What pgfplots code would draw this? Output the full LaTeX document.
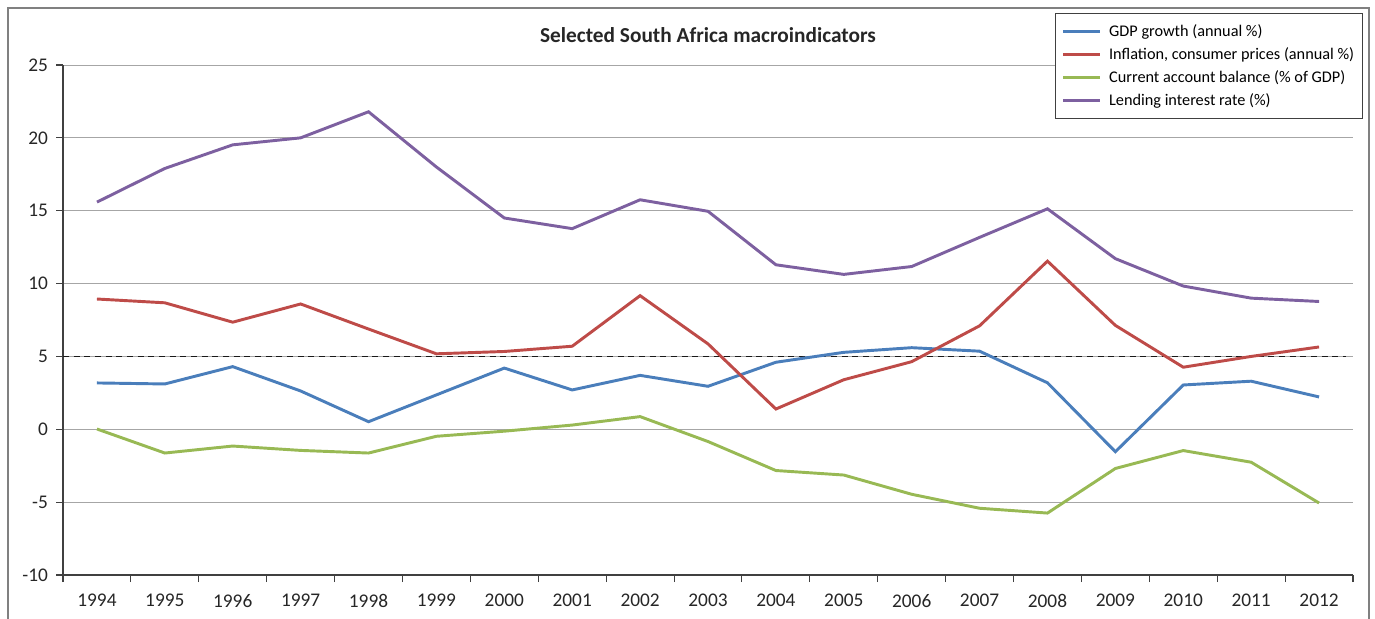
\documentclass[border=0pt]{standalone}
\usepackage{fontspec}
\setmainfont{Carlito}
\usepackage{pgfplots}
\pgfplotsset{compat=1.18}
\definecolor{cgdp}{HTML}{4A7EBB}
\definecolor{cinf}{HTML}{BE4B48}
\definecolor{cca}{HTML}{98B954}
\definecolor{clend}{HTML}{7D60A0}
\definecolor{cgrid}{HTML}{A6A6A6}
\begin{document}
\begin{tikzpicture}
\path[use as bounding box] (0,0) rectangle (1031.25pt,463.5pt);
\draw[color=black!50, line width=1.5pt] (6pt,-2pt) -- (6pt,457.5pt) -- (1026.75pt,457.5pt) -- (1026.75pt,-2pt);
\begin{axis}[
  at={(47.25pt,32.25pt)}, anchor=south west,
  scale only axis, width=967.5pt, height=382.5pt,
  xmin=-0.5, xmax=18.5, ymin=-10, ymax=25,
  axis lines=left, axis line style={-, color=black!75, line width=0.8pt},
  xtick={0,...,18},
  xticklabels={1994,1995,1996,1997,1998,1999,2000,2001,2002,2003,2004,2005,2006,2007,2008,2009,2010,2011,2012},
  minor xtick={-0.5,0.5,...,18.5},
  major x tick style={draw=none},
  minor x tick style={color=black!75, line width=0.8pt},
  ytick={-10,-5,...,25},
  ytick style={color=black!75, line width=0.8pt},
  tick align=outside, major tick length=5.25pt, minor tick length=5.25pt,
  ymajorgrids, major grid style={color=cgrid, line width=0.6pt},
  /pgf/number format/assume math mode=true,
  tick label style={font=\fontsize{14.5}{17}\selectfont, color=black!85},
  xticklabel style={yshift=-5.5pt},
  yticklabel style={xshift=-2.5pt},
  legend style={at={(0.769,1.102)}, anchor=north west, draw=black!75, line width=0.8pt, fill=white,
    font=\fontsize{12.2}{14}\selectfont, inner xsep=4.5pt, inner ysep=6pt, row sep=2.9pt,
    /tikz/every odd column/.append style={column sep=3.75pt},
    /tikz/every even column/.append style={column sep=7pt}},
  legend cell align=left,
  legend image code/.code={\draw[#1, line width=2.2pt] (0pt,0pt) -- (27.75pt,0pt);},
  every axis plot/.append style={line width=2.2pt},
  clip=false,
]
\addplot[black!90, line width=1.2pt, dash pattern=on 4.5pt off 3.5pt, forget plot] coordinates {(-0.5,5) (18.4,5)};
\addplot[cgdp] coordinates {(0,3.18) (1,3.11) (2,4.30) (3,2.63) (4,0.52) (5,2.36) (6,4.20) (7,2.70) (8,3.70) (9,2.95) (10,4.60) (11,5.28) (12,5.60) (13,5.36) (14,3.19) (15,-1.54) (16,3.04) (17,3.30) (18,2.22)};
\addplot[cinf] coordinates {(0,8.94) (1,8.68) (2,7.35) (3,8.60) (4,6.88) (5,5.18) (6,5.34) (7,5.70) (8,9.17) (9,5.86) (10,1.39) (11,3.40) (12,4.64) (13,7.10) (14,11.54) (15,7.13) (16,4.26) (17,5.00) (18,5.65)};
\addplot[cca] coordinates {(0,0.02) (1,-1.63) (2,-1.15) (3,-1.45) (4,-1.63) (5,-0.48) (6,-0.13) (7,0.29) (8,0.87) (9,-0.84) (10,-2.83) (11,-3.14) (12,-4.46) (13,-5.42) (14,-5.75) (15,-2.69) (16,-1.46) (17,-2.26) (18,-5.06)};
\addplot[clend] coordinates {(0,15.59) (1,17.90) (2,19.52) (3,20.00) (4,21.79) (5,18.00) (6,14.50) (7,13.77) (8,15.75) (9,14.96) (10,11.29) (11,10.63) (12,11.17) (13,13.17) (14,15.13) (15,11.71) (16,9.83) (17,9.00) (18,8.77)};
\legend{{GDP growth (annual \%)},{Inflation, consumer prices (annual \%)},{Current account balance (\% of GDP)},{Lending interest rate (\%)}}
\node[font=\fontsize{16}{19}\selectfont\bfseries, color=black!85] at (axis description cs:0.5,1.059) {Selected South Africa macroindicators};
\end{axis}
\end{tikzpicture}
\end{document}
